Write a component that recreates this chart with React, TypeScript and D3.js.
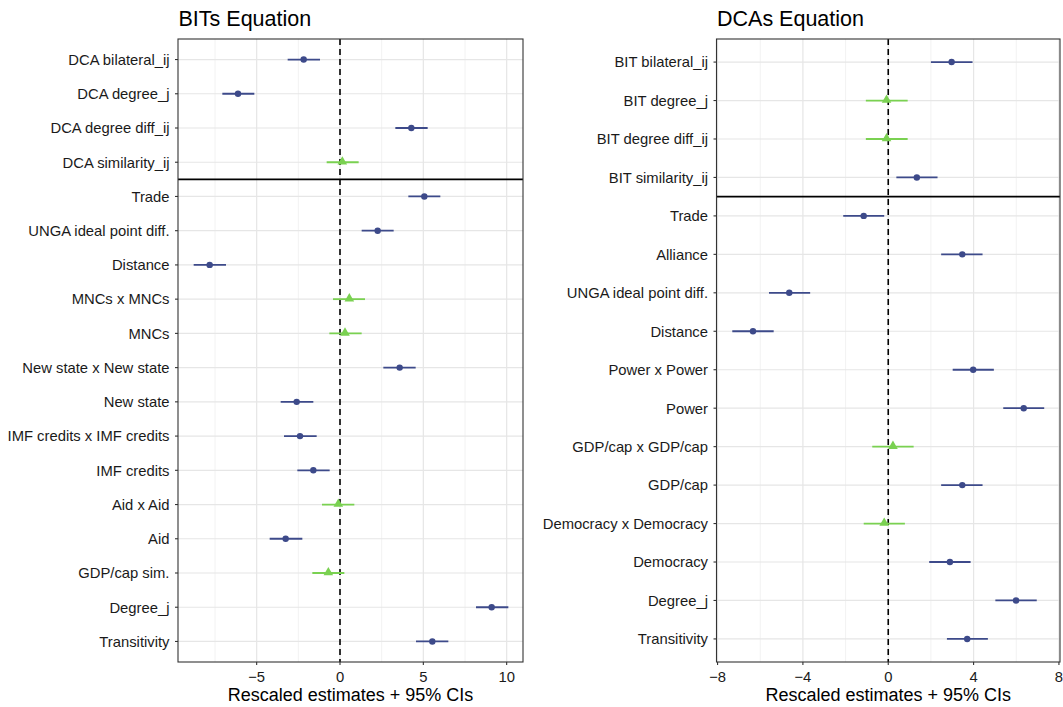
import React from "react";
import * as d3 from "d3";

// ---------- Data: BITs Equation ----------
const bitLabels = [
  "DCA bilateral_ij", "DCA degree_j", "DCA degree diff_ij", "DCA similarity_ij",
  "Trade", "UNGA ideal point diff.", "Distance", "MNCs x MNCs", "MNCs",
  "New state x New state", "New state", "IMF credits x IMF credits", "IMF credits",
  "Aid x Aid", "Aid", "GDP/cap sim.", "Degree_j", "Transitivity",
];
const bitEst = [-2.18, -6.12, 4.28, 0.14, 5.06, 2.26, -7.82, 0.56, 0.3, 3.58, -2.6, -2.4, -1.6, -0.1, -3.26, -0.7, 9.1, 5.54];
const bitLo = [-3.14, -7.06, 3.32, -0.8, 4.1, 1.3, -8.78, -0.42, -0.64, 2.6, -3.56, -3.36, -2.56, -1.08, -4.22, -1.66, 8.16, 4.56];
const bitHi = [-1.2, -5.14, 5.26, 1.12, 6.02, 3.22, -6.84, 1.5, 1.3, 4.54, -1.6, -1.4, -0.62, 0.86, -2.26, 0.26, 10.1, 6.5];
const bitSig = [true, true, true, false, true, true, true, false, false, true, true, true, true, false, true, false, true, true];
const bitTicks = [-5, 0, 5, 10];
const bitMinor = [-7.5, -2.5, 2.5, 7.5];

// ---------- Data: DCAs Equation ----------
const dcaLabels = [
  "BIT bilateral_ij", "BIT degree_j", "BIT degree diff_ij", "BIT similarity_ij",
  "Trade", "Alliance", "UNGA ideal point diff.", "Distance", "Power x Power", "Power",
  "GDP/cap x GDP/cap", "GDP/cap", "Democracy x Democracy", "Democracy", "Degree_j", "Transitivity",
];
const dcaEst = [2.97, -0.08, -0.08, 1.34, -1.15, 3.47, -4.64, -6.34, 3.98, 6.35, 0.22, 3.47, -0.19, 2.89, 5.99, 3.7];
const dcaLo = [2.0, -1.05, -1.05, 0.38, -2.11, 2.48, -5.59, -7.31, 3.02, 5.39, -0.75, 2.48, -1.15, 1.92, 5.02, 2.75];
const dcaHi = [3.95, 0.91, 0.91, 2.31, -0.19, 4.42, -3.66, -5.37, 4.95, 7.31, 1.19, 4.42, 0.78, 3.86, 6.96, 4.67];
const dcaSig = [true, false, false, true, true, true, true, true, true, true, false, true, false, true, true, true];
const dcaTicks = [-8, -4, 0, 4, 8];
const dcaMinor = [-6, -2, 2, 6];

const SIG_COLOR = "#3d4a8a";
const NS_COLOR = "#7ad151";
const FONT = "Liberation Sans, Arial, Helvetica, sans-serif";

type PanelProps = {
  title: string;
  labels: string[];
  est: number[];
  lo: number[];
  hi: number[];
  sig: boolean[];
  ticks: number[];
  minor: number[];
  domain: [number, number];
  left: number;
  right: number;
  splitAfter: number;
};

const TOP = 39;
const BOTTOM = 662;

function Panel(p: PanelProps) {
  const x = d3.scaleLinear().domain(p.domain).range([p.left, p.right]);
  const n = p.labels.length;
  const y = d3
    .scalePoint<number>()
    .domain(d3.range(n))
    .range([TOP, BOTTOM])
    .padding(0.6);
  const splitY = (y(p.splitAfter - 1)! + y(p.splitAfter)!) / 2;
  const tri = d3.symbol().type(d3.symbolTriangle).size(40)();
  const fmt = (v: number) => (v < 0 ? "\u2212" + Math.abs(v) : String(v));
  return (
    <g>
      <text x={p.left + 0.5} y={26} fontSize={21.5} fontFamily={FONT} fill="#000">
        {p.title}
      </text>
      <rect x={p.left} y={TOP} width={p.right - p.left} height={BOTTOM - TOP} fill="#fff" />
      {p.minor.map((v) => (
        <line key={"mn" + v} x1={x(v)} x2={x(v)} y1={TOP} y2={BOTTOM} stroke="#f2f2f2" strokeWidth={1} />
      ))}
      {p.ticks.map((v) => (
        <line key={"mj" + v} x1={x(v)} x2={x(v)} y1={TOP} y2={BOTTOM} stroke="#e6e6e6" strokeWidth={1.2} />
      ))}
      {p.labels.map((_, i) => (
        <line key={"hg" + i} x1={p.left} x2={p.right} y1={y(i)} y2={y(i)} stroke="#e6e6e6" strokeWidth={1.2} />
      ))}
      <line x1={x(0)} x2={x(0)} y1={TOP} y2={BOTTOM} stroke="#000" strokeWidth={1.6} strokeDasharray="6,4" />
      <line x1={p.left} x2={p.right} y1={splitY} y2={splitY} stroke="#000" strokeWidth={1.6} />
      {p.labels.map((_, i) => {
        const c = p.sig[i] ? SIG_COLOR : NS_COLOR;
        const yy = y(i)!;
        return (
          <g key={"pt" + i}>
            <line x1={x(p.lo[i])} x2={x(p.hi[i])} y1={yy} y2={yy} stroke={c} strokeWidth={1.8} />
            {p.sig[i] ? (
              <circle cx={x(p.est[i])} cy={yy} r={3.2} fill={c} />
            ) : (
              <path d={tri!} transform={`translate(${x(p.est[i])},${yy - 0.5})`} fill={c} />
            )}
          </g>
        );
      })}
      <rect x={p.left} y={TOP} width={p.right - p.left} height={BOTTOM - TOP} fill="none" stroke="#333" strokeWidth={1.1} />
      {p.labels.map((lab, i) => (
        <g key={"yl" + i}>
          <line x1={p.left - 3} x2={p.left} y1={y(i)} y2={y(i)} stroke="#333" strokeWidth={1.1} />
          <text x={p.left - 8.5} y={y(i)} dy="0.36em" textAnchor="end" fontSize={14.8} fontFamily={FONT} fill="#1a1a1a">
            {lab}
          </text>
        </g>
      ))}
      {p.ticks.map((v) => (
        <g key={"xt" + v}>
          <line x1={x(v)} x2={x(v)} y1={BOTTOM} y2={BOTTOM + 3} stroke="#333" strokeWidth={1.1} />
          <text x={x(v)} y={BOTTOM + 20} textAnchor="middle" fontSize={14.8} fontFamily={FONT} fill="#1a1a1a">
            {fmt(v)}
          </text>
        </g>
      ))}
      <text x={(p.left + p.right) / 2} y={701} textAnchor="middle" fontSize={18} fontFamily={FONT} fill="#000">
        Rescaled estimates + 95% CIs
      </text>
    </g>
  );
}

export default function App() {
  return (
    <svg width={1063} height={707} style={{ position: "absolute", left: 0, top: 0, background: "#fff" }}>
      <rect x={0} y={0} width={1063} height={707} fill="#fff" />
      <Panel
        title="BITs Equation"
        labels={bitLabels}
        est={bitEst}
        lo={bitLo}
        hi={bitHi}
        sig={bitSig}
        ticks={bitTicks}
        minor={bitMinor}
        domain={[-9.72, 10.98]}
        left={178}
        right={523}
        splitAfter={4}
      />
      <Panel
        title="DCAs Equation"
        labels={dcaLabels}
        est={dcaEst}
        lo={dcaLo}
        hi={dcaHi}
        sig={dcaSig}
        ticks={dcaTicks}
        minor={dcaMinor}
        domain={[-8.05, 8.05]}
        left={716.5}
        right={1060}
        splitAfter={4}
      />
    </svg>
  );
}
